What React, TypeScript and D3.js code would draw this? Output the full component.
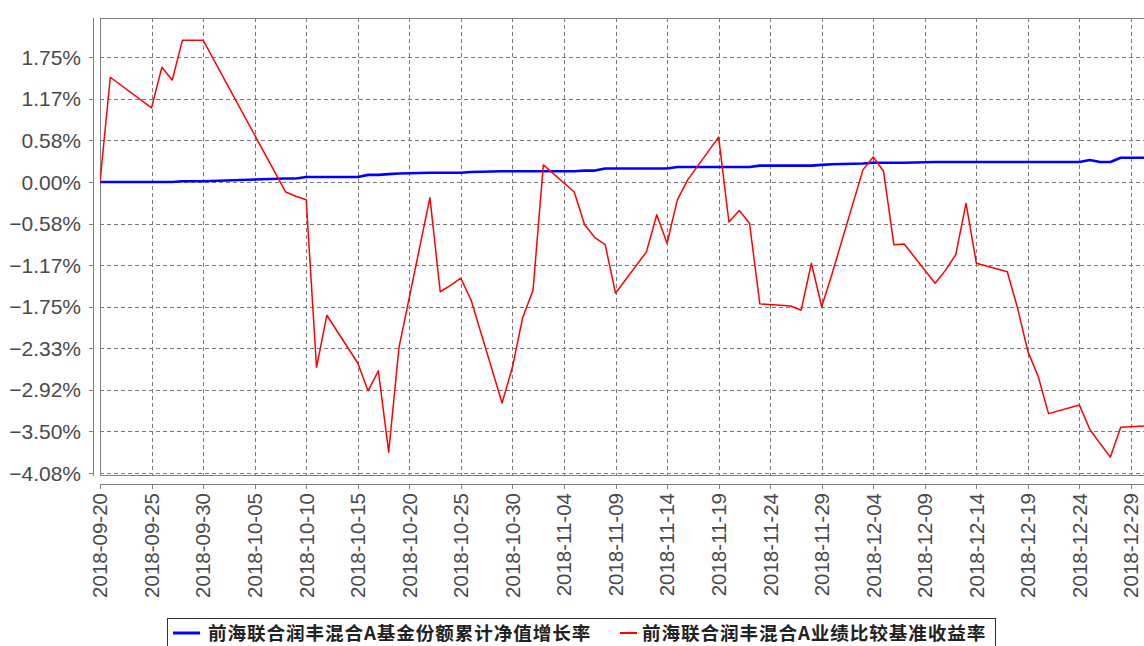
import React, { useEffect, useRef } from "react";
import * as d3 from "d3";

// trading days plus quarter / year end
const dates = [
  "2018-09-20", "2018-09-21", "2018-09-25", "2018-09-26", "2018-09-27", "2018-09-28", "2018-09-30",
  "2018-10-08", "2018-10-09", "2018-10-10", "2018-10-11", "2018-10-12", "2018-10-15", "2018-10-16",
  "2018-10-17", "2018-10-18", "2018-10-19", "2018-10-22", "2018-10-23", "2018-10-24", "2018-10-25",
  "2018-10-26", "2018-10-29", "2018-10-30", "2018-10-31", "2018-11-01", "2018-11-02", "2018-11-05",
  "2018-11-06", "2018-11-07", "2018-11-08", "2018-11-09", "2018-11-12", "2018-11-13", "2018-11-14",
  "2018-11-15", "2018-11-16", "2018-11-19", "2018-11-20", "2018-11-21", "2018-11-22", "2018-11-23",
  "2018-11-26", "2018-11-27", "2018-11-28", "2018-11-29", "2018-11-30", "2018-12-03", "2018-12-04",
  "2018-12-05", "2018-12-06", "2018-12-07", "2018-12-10", "2018-12-11", "2018-12-12", "2018-12-13",
  "2018-12-14", "2018-12-17", "2018-12-18", "2018-12-19", "2018-12-20", "2018-12-21", "2018-12-24",
  "2018-12-25", "2018-12-26", "2018-12-27", "2018-12-28", "2018-12-31",
];

// 基金份额累计净值增长率 (%)
const fundReturn = [
  0.0, 0.0, 0.0, 0.0, 0.0, 0.01, 0.01,
  0.05, 0.05, 0.07, 0.07, 0.07, 0.07, 0.1,
  0.1, 0.11, 0.12, 0.13, 0.13, 0.13, 0.13,
  0.14, 0.15, 0.15, 0.15, 0.15, 0.15, 0.15,
  0.16, 0.16, 0.19, 0.19, 0.19, 0.19, 0.19,
  0.21, 0.21, 0.21, 0.21, 0.21, 0.21, 0.23,
  0.23, 0.23, 0.23, 0.24, 0.25, 0.26, 0.27,
  0.27, 0.27, 0.27, 0.28, 0.28, 0.28, 0.28,
  0.28, 0.28, 0.28, 0.28, 0.28, 0.28, 0.28,
  0.31, 0.28, 0.28, 0.34, 0.34,
];

// 业绩比较基准收益率 (%)
const benchmarkReturn = [
  0.0, 1.47, 1.04, 1.61, 1.43, 1.99, 1.99,
  -0.14, -0.2, -0.25, -2.6, -1.87, -2.54, -2.93,
  -2.65, -3.79, -2.32, -0.22, -1.54, -1.45, -1.35,
  -1.66, -3.1, -2.6, -1.9, -1.52, 0.24, -0.14,
  -0.6, -0.78, -0.88, -1.56, -0.98, -0.46, -0.86,
  -0.25, 0.03, 0.63, -0.56, -0.4, -0.58, -1.71,
  -1.74, -1.8, -1.14, -1.75, -1.29, 0.17, 0.35,
  0.15, -0.88, -0.87, -1.42, -1.24, -1.02, -0.3,
  -1.14, -1.26, -1.77, -2.38, -2.73, -3.25, -3.13,
  -3.47, -3.67, -3.86, -3.44, -3.42,
];

const tickLabels = [
  "2018-09-20", "2018-09-25", "2018-09-30", "2018-10-05", "2018-10-10", "2018-10-15", "2018-10-20",
  "2018-10-25", "2018-10-30", "2018-11-04", "2018-11-09", "2018-11-14", "2018-11-19", "2018-11-24",
  "2018-11-29", "2018-12-04", "2018-12-09", "2018-12-14", "2018-12-19", "2018-12-24", "2018-12-29",
];

const yTicks = [-7, -6, -5, -4, -3, -2, -1, 0, 1, 2, 3].map((k) => (k * 1.75) / 3);

const seriesNames = ["前海联合润丰混合A基金份额累计净值增长率", "前海联合润丰混合A业绩比较基准收益率"];
const seriesColors = ["#0000ff", "#ff0000"];

const W = 1144;
const H = 646;

const Chart = () => {
  const ref = useRef(null);

  useEffect(() => {
    d3.select(ref.current).select("svg").remove();

    const parse = d3.utcParse("%Y-%m-%d");
    const plot = { left: 100, top: 18, bottom: 475 };

    const svg = d3
      .select(ref.current)
      .append("svg")
      .attr("width", W)
      .attr("height", H)
      .style("display", "block")
      .style("background", "#fff");

    const x = d3
      .scaleUtc()
      .domain([parse("2018-09-20"), parse("2018-12-29")])
      .range([plot.left, 1131]);
    const y = d3.scaleLinear().domain([-4.111, 2.301]).range([plot.bottom, plot.top]);

    const font = "'Liberation Sans', Arial, sans-serif";

    // grid
    const grid = svg.append("g").attr("stroke", "#7a7a7a").attr("stroke-width", 1).attr("stroke-dasharray", "4,3");
    grid
      .selectAll("line.h")
      .data(yTicks)
      .enter()
      .append("line")
      .attr("x1", plot.left)
      .attr("x2", W)
      .attr("y1", (d) => Math.round(y(d)) + 0.5)
      .attr("y2", (d) => Math.round(y(d)) + 0.5);
    grid
      .selectAll("line.v")
      .data(tickLabels)
      .enter()
      .append("line")
      .attr("y1", plot.top)
      .attr("y2", plot.bottom)
      .attr("x1", (d) => Math.round(x(parse(d))) + 0.5)
      .attr("x2", (d) => Math.round(x(parse(d))) + 0.5);

    // plot outline
    svg
      .append("rect")
      .attr("x", plot.left + 0.5)
      .attr("y", plot.top + 0.5)
      .attr("width", W)
      .attr("height", plot.bottom - plot.top)
      .attr("fill", "none")
      .attr("stroke", "#808080");

    // y axis
    const yAxis = svg.append("g");
    yAxis
      .append("line")
      .attr("x1", 93.5)
      .attr("x2", 93.5)
      .attr("y1", plot.top)
      .attr("y2", plot.bottom + 1)
      .attr("stroke", "#808080");
    yAxis
      .selectAll("line.t")
      .data(yTicks)
      .enter()
      .append("line")
      .attr("x1", 89)
      .attr("x2", 93)
      .attr("y1", (d) => Math.round(y(d)) + 0.5)
      .attr("y2", (d) => Math.round(y(d)) + 0.5)
      .attr("stroke", "#808080");
    yAxis
      .selectAll("text")
      .data(yTicks)
      .enter()
      .append("text")
      .attr("x", 81)
      .attr("y", (d) => y(d))
      .attr("dy", "0.36em")
      .attr("text-anchor", "end")
      .style("font-family", font)
      .style("font-size", "21px")
      .attr("fill", "#4a4a4a")
      .text((d) => d3.format(".2f")(d) + "%");

    // x axis
    const xAxis = svg.append("g");
    xAxis
      .append("line")
      .attr("x1", plot.left)
      .attr("x2", W)
      .attr("y1", 484.5)
      .attr("y2", 484.5)
      .attr("stroke", "#808080");
    xAxis
      .selectAll("line.t")
      .data(tickLabels)
      .enter()
      .append("line")
      .attr("x1", (d) => Math.round(x(parse(d))) + 0.5)
      .attr("x2", (d) => Math.round(x(parse(d))) + 0.5)
      .attr("y1", 484)
      .attr("y2", 489)
      .attr("stroke", "#808080");
    xAxis
      .selectAll("text")
      .data(tickLabels)
      .enter()
      .append("text")
      .attr("transform", (d) => `translate(${x(parse(d))},493) rotate(-90)`)
      .attr("dy", "0.36em")
      .attr("text-anchor", "end")
      .style("font-family", font)
      .style("font-size", "20.5px")
      .attr("fill", "#4a4a4a")
      .text((d) => d);

    // series
    const rows = dates.map((d, i) => ({ date: parse(d), fund: fundReturn[i], bench: benchmarkReturn[i] }));
    const fundLine = d3
      .line()
      .x((d) => x(d.date))
      .y((d) => y(d.fund));
    const benchLine = d3
      .line()
      .x((d) => x(d.date))
      .y((d) => y(d.bench));

    const clip = svg.append("clipPath").attr("id", "plot-clip");
    clip.append("rect").attr("x", plot.left).attr("y", plot.top).attr("width", W).attr("height", plot.bottom - plot.top);

    const lines = svg.append("g").attr("clip-path", "url(#plot-clip)");
    lines
      .append("path")
      .datum(rows)
      .attr("d", fundLine)
      .attr("fill", "none")
      .attr("stroke", seriesColors[0])
      .attr("stroke-width", 2.6)
      .attr("stroke-linejoin", "round");
    lines
      .append("path")
      .datum(rows)
      .attr("d", benchLine)
      .attr("fill", "none")
      .attr("stroke", seriesColors[1])
      .attr("stroke-width", 1.5)
      .attr("stroke-linejoin", "round");

    // legend
    const legend = svg.append("g");
    legend
      .append("rect")
      .attr("x", 167.5)
      .attr("y", 618.5)
      .attr("width", 828)
      .attr("height", 40)
      .attr("fill", "#fff")
      .attr("stroke", "#333");
    const items = [
      { lx: 173, tx: 208 },
      { lx: 620, tx: 642 },
    ];
    items.forEach((it, i) => {
      legend
        .append("line")
        .attr("x1", it.lx)
        .attr("x2", it.lx + (i === 0 ? 27 : 17))
        .attr("y1", 633)
        .attr("y2", 633)
        .attr("stroke", seriesColors[i])
        .attr("stroke-width", i === 0 ? 3 : 2);
      legend
        .append("text")
        .attr("x", it.tx)
        .attr("y", 640)
        .style("font-family", "'Noto Sans CJK SC', sans-serif")
        .style("font-size", "18.6px")
        .style("font-weight", "bold")
        .style("letter-spacing", "0.9px")
        .attr("fill", "#222")
        .text(seriesNames[i]);
    });
  }, []);

  return <div ref={ref}></div>;
};

export default function App() {
  return (
    <div style={{ position: "absolute", left: 0, top: 0, width: W, height: H, overflow: "hidden" }}>
      <Chart />
    </div>
  );
}
